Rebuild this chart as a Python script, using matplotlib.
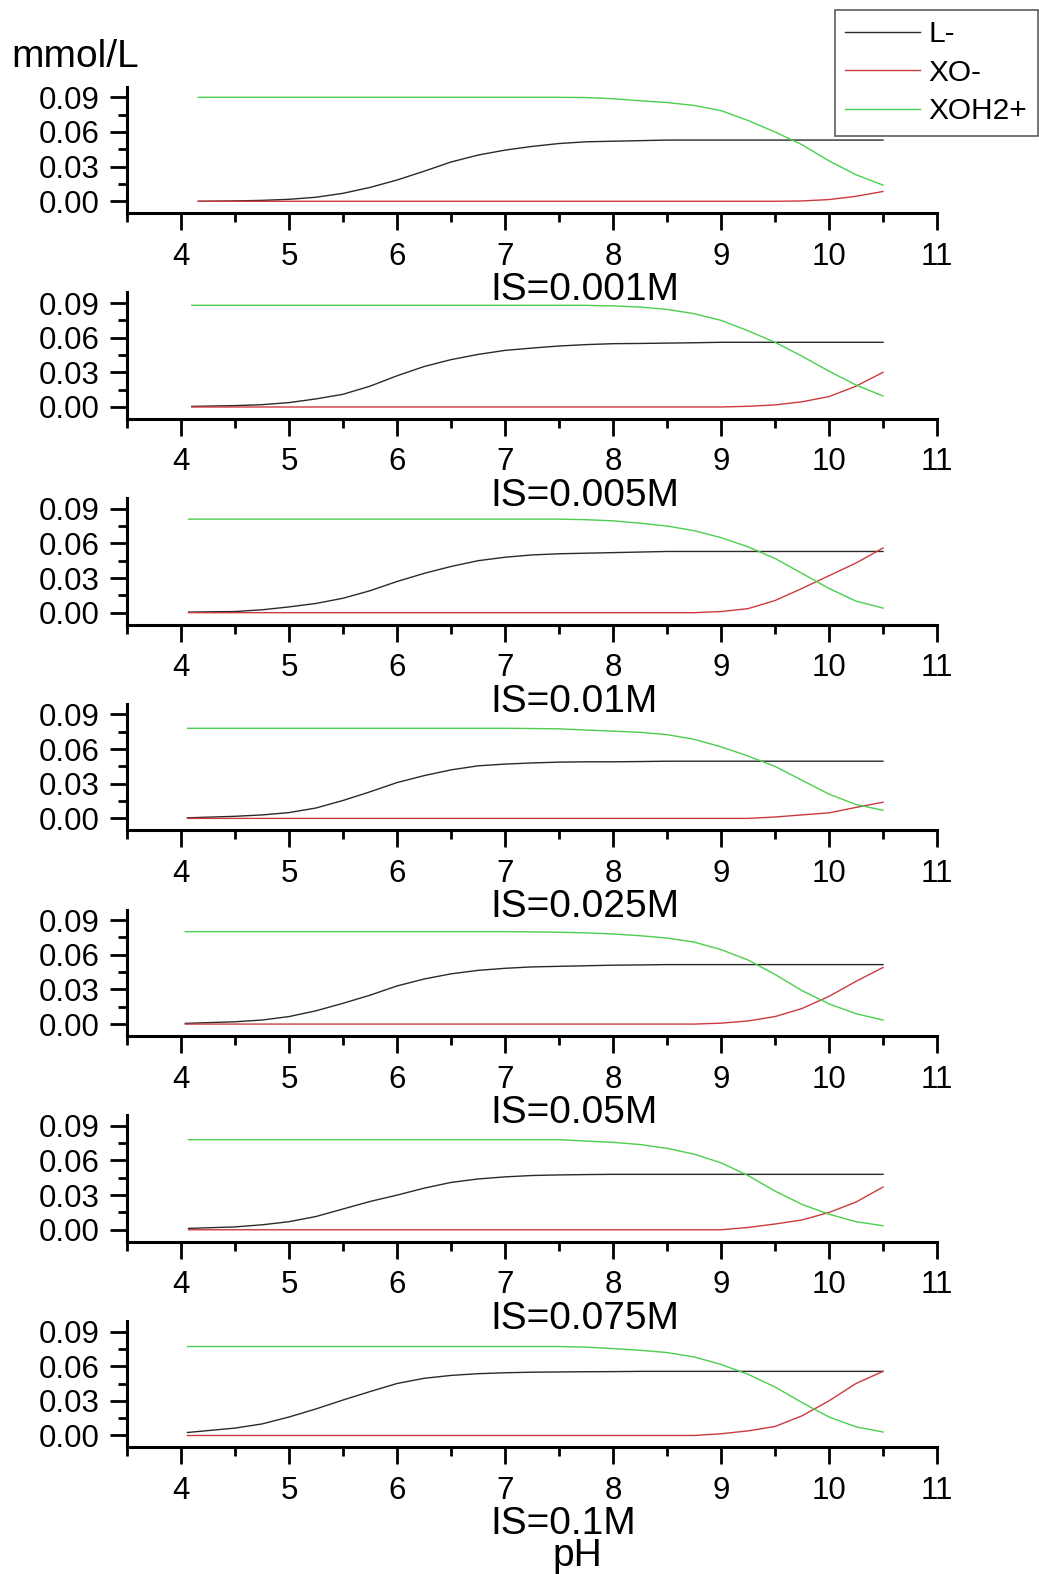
import matplotlib
matplotlib.use('Agg')
import matplotlib.pyplot as plt
import numpy as np
from matplotlib.ticker import FixedLocator, FormatStrFormatter

plt.rcParams['font.family'] = ['Liberation Sans', 'DejaVu Sans']

# pH grid shared by all panels (each panel prepends its own start pH)
ph_grid = [4.5, 4.75, 5.0, 5.25, 5.5, 5.75, 6.0, 6.25, 6.5, 6.75, 7.0, 7.25, 7.5,
           7.75, 8.0, 8.25, 8.5, 8.75, 9.0, 9.25, 9.5, 9.75, 10.0, 10.25, 10.5]

ionic_strengths = ['IS=0.001M', 'IS=0.005M', 'IS=0.01M', 'IS=0.025M',
                   'IS=0.05M', 'IS=0.075M', 'IS=0.1M']
ph_start = [4.16, 4.10, 4.07, 4.06, 4.04, 4.07, 4.06]

# L- (black)
l_minus = [
    [0.0, 0.0003, 0.0008, 0.0017, 0.0035, 0.0069, 0.012, 0.0184, 0.026, 0.034, 0.040, 0.0443, 0.0475,
     0.050, 0.0515, 0.052, 0.0525, 0.053, 0.053, 0.053, 0.053, 0.053, 0.053, 0.053, 0.053, 0.053],
    [0.0005, 0.0012, 0.002, 0.0038, 0.007, 0.011, 0.018, 0.027, 0.035, 0.041, 0.0455, 0.049, 0.051,
     0.0528, 0.054, 0.0548, 0.055, 0.0553, 0.0556, 0.056, 0.056, 0.056, 0.056, 0.056, 0.056, 0.056],
    [0.0005, 0.001, 0.0025, 0.005, 0.008, 0.0125, 0.019, 0.027, 0.034, 0.040, 0.045, 0.048, 0.050,
     0.051, 0.0515, 0.052, 0.0525, 0.053, 0.053, 0.053, 0.053, 0.053, 0.053, 0.053, 0.053, 0.053],
    [0.0005, 0.0018, 0.003, 0.005, 0.009, 0.0155, 0.023, 0.031, 0.037, 0.042, 0.0455, 0.047, 0.048,
     0.0487, 0.049, 0.049, 0.0492, 0.0495, 0.0495, 0.0495, 0.0495, 0.0495, 0.0495, 0.0495, 0.0495, 0.0495],
    [0.0006, 0.002, 0.0035, 0.0065, 0.0115, 0.018, 0.025, 0.033, 0.039, 0.0435, 0.0465, 0.0483, 0.0495,
     0.050, 0.0505, 0.051, 0.0512, 0.0515, 0.0515, 0.0515, 0.0515, 0.0515, 0.0515, 0.0515, 0.0515, 0.0515],
    [0.0012, 0.0025, 0.0043, 0.007, 0.0115, 0.018, 0.0245, 0.030, 0.036, 0.041, 0.044, 0.0458, 0.047,
     0.0475, 0.0478, 0.048, 0.048, 0.048, 0.048, 0.048, 0.048, 0.048, 0.048, 0.048, 0.048, 0.048],
    [0.0026, 0.0064, 0.010, 0.016, 0.023, 0.0307, 0.038, 0.045, 0.0495, 0.052, 0.0535, 0.0543, 0.0548,
     0.055, 0.0552, 0.0553, 0.0555, 0.0555, 0.0555, 0.0555, 0.0555, 0.0555, 0.0555, 0.0555, 0.0555, 0.0555],
]

# XO- (red)
xo_minus = [
    [0.0] * 22 + [0.0003, 0.0015, 0.0043, 0.0085],
    [0.0] * 20 + [0.0006, 0.0018, 0.0045, 0.009, 0.018, 0.030],
    [0.0] * 19 + [0.001, 0.0035, 0.0105, 0.021, 0.032, 0.043, 0.056],
    [0.0] * 21 + [0.0012, 0.003, 0.0048, 0.0095, 0.014],
    [0.0] * 19 + [0.0008, 0.0027, 0.0065, 0.0135, 0.024, 0.037, 0.049],
    [0.0] * 20 + [0.002, 0.005, 0.0085, 0.015, 0.024, 0.037],
    [0.0] * 19 + [0.0015, 0.004, 0.0078, 0.017, 0.030, 0.045, 0.0555],
]

# XOH2+ (green)
xoh2_plus = [
    [0.090] * 14 + [0.0898, 0.0888, 0.087, 0.0855, 0.083, 0.0785, 0.070, 0.060, 0.049, 0.035, 0.023, 0.014],
    [0.088] * 15 + [0.0875, 0.0865, 0.0845, 0.0808, 0.075, 0.066, 0.056, 0.044, 0.031, 0.019, 0.0095],
    [0.081] * 14 + [0.0805, 0.0795, 0.0775, 0.075, 0.071, 0.065, 0.057, 0.047, 0.034, 0.021, 0.010, 0.004],
    [0.078] * 12 + [0.0778, 0.0775, 0.0765, 0.0755, 0.0745, 0.0725, 0.0685, 0.062, 0.054, 0.045, 0.033, 0.021, 0.012, 0.007],
    [0.080] * 12 + [0.0798, 0.0795, 0.079, 0.078, 0.0765, 0.0745, 0.071, 0.0645, 0.0555, 0.043, 0.029, 0.0175, 0.009, 0.0035],
    [0.078] * 14 + [0.0768, 0.0757, 0.0738, 0.0705, 0.0655, 0.058, 0.047, 0.0335, 0.022, 0.0135, 0.007, 0.0035],
    [0.077] * 14 + [0.0765, 0.0752, 0.0738, 0.0718, 0.068, 0.0615, 0.053, 0.042, 0.0285, 0.016, 0.0075, 0.003],
]

series_labels = ['L-', 'XO-', 'XOH2+']
series_colors = ['#2a2a2a', '#cc3a40', '#4ccf4c']

W, H = 1039, 1574
fig = plt.figure(figsize=(W / 100, H / 100), dpi=100)

left_px, right_px = 127, 937
axis_px0, step_px, height_px = 213.3, 205.7, 126.6

axes = []
for i in range(7):
    bottom_px = axis_px0 + step_px * i
    ax = fig.add_axes([left_px / W, 1 - bottom_px / H, (right_px - left_px) / W, height_px / H])
    ph = [ph_start[i]] + ph_grid
    for ys, c, lab in zip([l_minus[i], xo_minus[i], xoh2_plus[i]], series_colors, series_labels):
        ax.plot(ph, ys, color=c, lw=1.0, label=lab)
    ax.set_xlim(3.5, 11)
    ax.set_ylim(-0.0104, 0.0992)
    ax.spines['top'].set_visible(False)
    ax.spines['right'].set_visible(False)
    for s in ['left', 'bottom']:
        ax.spines[s].set_linewidth(2.2)
    ax.xaxis.set_major_locator(FixedLocator(range(4, 12)))
    ax.xaxis.set_minor_locator(FixedLocator(np.arange(3.5, 11, 1.0)))
    ax.yaxis.set_major_locator(FixedLocator([0.0, 0.03, 0.06, 0.09]))
    ax.yaxis.set_minor_locator(FixedLocator([0.015, 0.045, 0.075]))
    ax.yaxis.set_major_formatter(FormatStrFormatter('%.2f'))
    ax.tick_params(axis='both', which='major', direction='out', length=12.5, width=2.0, labelsize=22.5)
    ax.tick_params(axis='both', which='minor', direction='out', length=6.5, width=2.0)
    ax.tick_params(axis='x', which='major', pad=8)
    ax.tick_params(axis='y', which='major', pad=7)
    fig.text(490 / W, 1 - (bottom_px + 77) / H, ionic_strengths[i], fontsize=28,
             ha='left', va='center')
    axes.append(ax)

fig.text(11 / W, 1 - 57 / H, 'mmol/L', fontsize=28, ha='left', va='center')
fig.text(577 / W, 1 - 1556 / H, 'pH', fontsize=28, ha='center', va='center')

handles, labels = axes[0].get_legend_handles_labels()
leg = fig.legend(handles, labels, loc='upper right', bbox_to_anchor=(1038 / W, 1 - 10 / H),
                 bbox_transform=fig.transFigure, fontsize=21.5, frameon=True, fancybox=False,
                 edgecolor='#333333', handlelength=2.5, handletextpad=0.3, labelspacing=0.35,
                 borderpad=0.35, borderaxespad=0)
leg.get_frame().set_linewidth(1.2)

plt.savefig('out.png', dpi=100)
